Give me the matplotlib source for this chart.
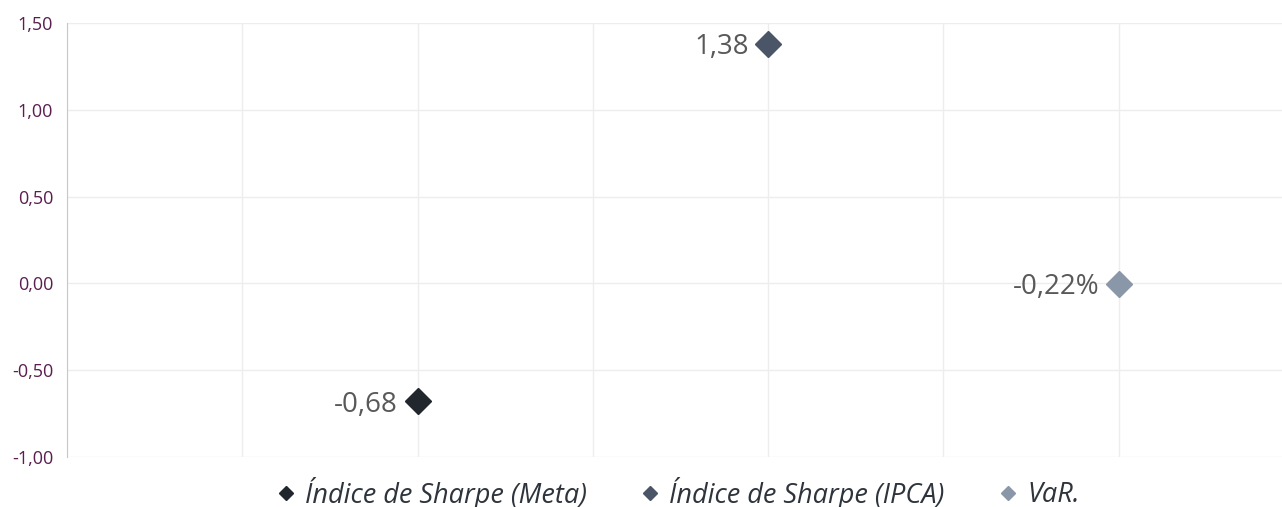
import matplotlib.pyplot as plt
from matplotlib.ticker import FuncFormatter, MultipleLocator

# chart data
series_names = ['Índice de Sharpe (Meta)', 'Índice de Sharpe (IPCA)', 'VaR.']
x_positions = [2, 4, 6]
y_values = [-0.68, 1.38, -0.0022]
point_labels = ['-0,68', '1,38', '-0,22%']
marker_colors = ['#22272e', '#4a5667', '#8a97a9']

plt.rcParams['font.family'] = ['Open Sans', 'DejaVu Sans']

fig = plt.figure(figsize=(12.82, 5.07), dpi=100)
ax = fig.add_axes([67 / 1282, 1 - 457 / 507, 1227 / 1282, 434 / 507])

for name, x, y, lab, col in zip(series_names, x_positions, y_values, point_labels, marker_colors):
    ax.plot([x], [y], linestyle='none', marker='D', markersize=13, color=col, label=name, zorder=3)
    ax.annotate(lab, (x, y), xytext=(-14, 0), textcoords='offset points',
                ha='right', va='center_baseline', fontsize=20, color='#595959')

ax.set_xlim(0, 7)
ax.set_ylim(-1.0, 1.5)
ax.yaxis.set_major_locator(MultipleLocator(0.5))
ax.xaxis.set_major_locator(MultipleLocator(1))
ax.yaxis.set_major_formatter(FuncFormatter(lambda v, p: f'{v:.2f}'.replace('.', ',')))
ax.set_xticklabels([])
ax.tick_params(axis='both', length=0)
ax.tick_params(axis='y', labelsize=13, labelcolor='#5a1e4f', pad=10)

ax.grid(True, color='#ededed', linewidth=1)
ax.set_axisbelow(True)
for s in ['top', 'right', 'bottom']:
    ax.spines[s].set_visible(False)
ax.spines['left'].set_color('#c8c8c8')

leg = fig.legend(loc='center', bbox_to_anchor=(676 / 1282, 1 - 493 / 507), ncol=3,
                 frameon=False, markerscale=0.55, handlelength=1.0, handletextpad=0.2,
                 columnspacing=1.85, prop={'style': 'italic', 'size': 19.5})
for t in leg.get_texts():
    t.set_color('#2e343c')

plt.savefig('out.png', dpi=100)
